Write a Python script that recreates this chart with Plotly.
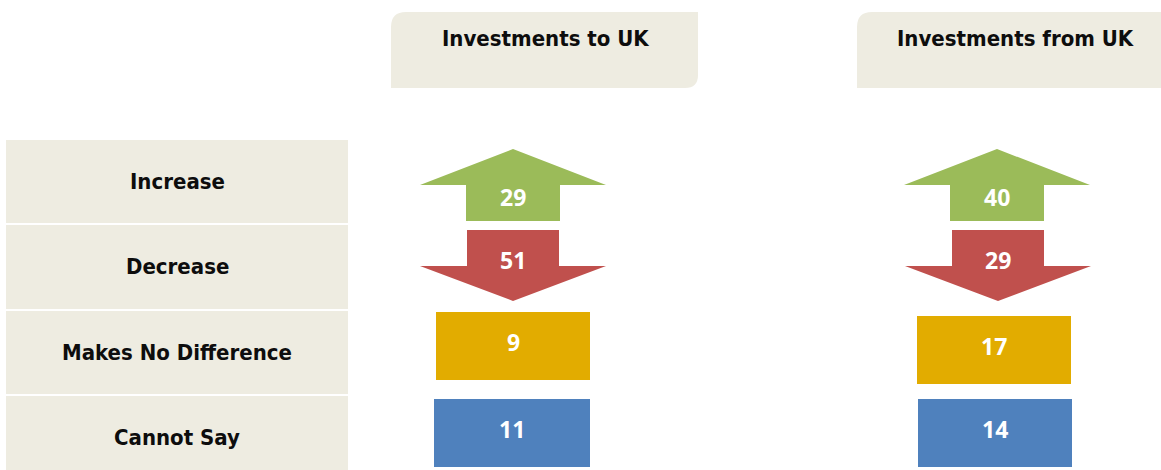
import plotly.graph_objects as go

# ---- data ----
categories = ["Increase", "Decrease", "Makes No Difference", "Cannot Say"]
groups = ["Investments to UK", "Investments from UK"]
to_uk = [29, 51, 9, 11]
from_uk = [40, 29, 17, 14]
colors = ["#9BBB59", "#C0504D", "#E2AC00", "#4F81BD"]

# ---- layout constants (pixel space) ----
W, H = 1161, 470
PANEL = "#EEECE1"
LABEL_FONT = "DejaVu Sans Condensed, DejaVu Sans, sans-serif"
VALUE_FONT = "Open Sans, sans-serif"

row_tops = [140, 225, 311, 396]
row_bots = [223, 309, 394, 474]
label_y = [181, 266, 352, 437]
col_centers = [513, 997]
header_boxes = [(391, 698), (857, 1175)]
header_text_x = [545, 1015]
yellow_rects = [(436, 590, 312, 380), (917, 1071, 316, 384)]
blue_rects = [(434, 590, 399, 467), (918, 1072, 399, 467)]

fig = go.Figure()
shapes = []
annotations = []

# headers
for (x0, x1), tx, g in zip(header_boxes, header_text_x, groups):
    y0, y1, r1, r2 = 12, 88, 15, 13
    path = (f"M {x0},{y0+r1} Q {x0},{y0} {x0+r1},{y0} L {x1},{y0} "
            f"L {x1},{y1-r2} Q {x1},{y1} {x1-r2},{y1} L {x0},{y1} Z")
    shapes.append(dict(type="path", path=path, xref="x", yref="y",
                       fillcolor=PANEL, line=dict(width=0), layer="below"))
    annotations.append(dict(x=tx, y=38, xref="x", yref="y", text=g, showarrow=False,
                            font=dict(family=LABEL_FONT, size=22, color="#0d0d0d", weight="bold"),
                            xanchor="center", yanchor="middle"))

# row label panels
for cat, t, b, ly in zip(categories, row_tops, row_bots, label_y):
    shapes.append(dict(type="rect", xref="x", yref="y", x0=6, x1=348, y0=t, y1=b,
                       fillcolor=PANEL, line=dict(width=0), layer="below"))
    annotations.append(dict(x=177, y=ly, xref="x", yref="y", text=cat, showarrow=False,
                            font=dict(family=LABEL_FONT, size=22, color="#0d0d0d", weight="bold"),
                            xanchor="center", yanchor="middle"))

# value marks
for ci, (cx, vals) in enumerate(zip(col_centers, [to_uk, from_uk])):
    # up arrow (Increase)
    up = (f"M {cx},149 L {cx+93},185 L {cx+47},185 L {cx+47},221 "
          f"L {cx-47},221 L {cx-47},185 L {cx-93},185 Z")
    shapes.append(dict(type="path", path=up, xref="x", yref="y",
                       fillcolor=colors[0], line=dict(width=0)))
    # down arrow (Decrease)
    dx = cx + 1 if ci == 1 else cx
    dn = (f"M {dx-46},230 L {dx+46},230 L {dx+46},266 L {dx+93},266 "
          f"L {dx},301 L {dx-93},266 L {dx-46},266 Z")
    shapes.append(dict(type="path", path=dn, xref="x", yref="y",
                       fillcolor=colors[1], line=dict(width=0)))
    yx0, yx1, yy0, yy1 = yellow_rects[ci]
    shapes.append(dict(type="rect", xref="x", yref="y", x0=yx0, x1=yx1, y0=yy0, y1=yy1,
                       fillcolor=colors[2], line=dict(width=0)))
    bx0, bx1, by0, by1 = blue_rects[ci]
    shapes.append(dict(type="rect", xref="x", yref="y", x0=bx0, x1=bx1, y0=by0, y1=by1,
                       fillcolor=colors[3], line=dict(width=0)))
    label_pos = [(cx, 197), (dx, 260), ((yx0 + yx1) / 2, (yy0 + yy1) / 2 - 4),
                 ((bx0 + bx1) / 2, (by0 + by1) / 2 - 4)]
    for (lx, ly), v in zip(label_pos, vals):
        annotations.append(dict(x=lx, y=ly, xref="x", yref="y", text=str(v), showarrow=False,
                                font=dict(family=VALUE_FONT, size=23, color="white", weight="bold"),
                                xanchor="center", yanchor="middle"))

fig.update_layout(
    width=W, height=H,
    margin=dict(l=0, r=0, t=0, b=0),
    paper_bgcolor="white", plot_bgcolor="white",
    xaxis=dict(range=[0, W], visible=False, fixedrange=True),
    yaxis=dict(range=[H, 0], visible=False, fixedrange=True),
    shapes=shapes, annotations=annotations,
    showlegend=False,
)
fig.write_html("out.html", config={"displayModeBar": False},
               post_script="document.body.style.margin='0';document.body.style.overflow='hidden';")
